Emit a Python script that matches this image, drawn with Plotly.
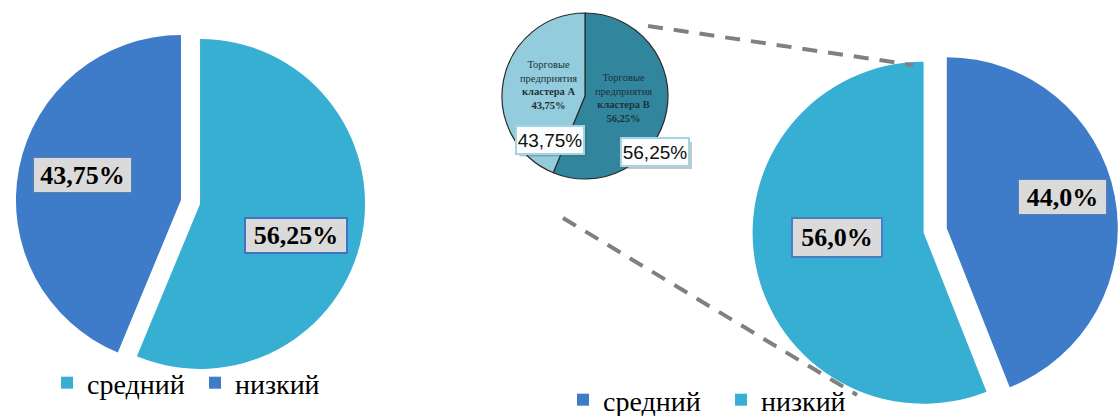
import plotly.graph_objects as go

W, H = 1118, 416

# Left chart: share of companies by level
left_labels = ["средний", "низкий"]
left_values = [56.25, 43.75]

# Right chart: share of companies by level
right_labels = ["средний", "низкий"]
right_values = [44.0, 56.0]

# Inset chart: trading companies by cluster
inset_names = ["Торговые<br>предприятия<br><b>кластера В</b>",
               "Торговые<br>предприятия<br><b>кластера А</b>"]
inset_labels = ["кластера В", "кластера А"]
inset_values = [56.25, 43.75]

CYAN = "#37AFD3"
BLUE = "#3E7BC9"
TEAL = "#31869E"
LIGHT = "#93CDDD"
SERIF = "Liberation Serif"
SANS = "Liberation Sans"


def dom(cx, cy, half):
    x0 = max(0.0, (cx - half) / W)
    x1 = min(1.0, (cx + half) / W)
    y0 = max(0.0, 1 - (cy + half) / H)
    y1 = min(1.0, 1 - (cy - half) / H)
    return dict(x=[x0, x1], y=[y0, y1])


def fmt(v, nd):
    return f"{v:.{nd}f}".replace(".", ",") + "%"


def px(x, y):
    return x / W, 1 - y / H


fig = go.Figure()

# Left pie
left_pull = 0.059
fig.add_trace(go.Pie(
    labels=left_labels, values=left_values, sort=False, direction="clockwise",
    rotation=0, pull=[left_pull, left_pull],
    marker=dict(colors=[CYAN, BLUE], line=dict(width=0)),
    textinfo="none", hoverinfo="skip",
    domain=dom(190.5, 202, 165 * (1 + left_pull)),
    legend="legend", legendgroup="left", showlegend=True,
))

# Right pie
right_pull = 0.069
fig.add_trace(go.Pie(
    labels=right_labels, values=right_values, sort=False, direction="clockwise",
    rotation=0, pull=[right_pull, right_pull],
    marker=dict(colors=[BLUE, CYAN], line=dict(width=0)),
    textinfo="none", hoverinfo="skip",
    domain=dom(935.2, 230.5, 171 * (1 + right_pull)),
    legend="legend2", legendgroup="right", showlegend=True,
))

# Inset pie
fig.add_trace(go.Pie(
    labels=inset_labels, values=inset_values, sort=False, direction="clockwise",
    rotation=0,
    marker=dict(colors=[TEAL, LIGHT], line=dict(width=1.2, color="#2b2b2b")),
    textinfo="none", hoverinfo="skip",
    domain=dom(585, 96, 83), showlegend=False,
))

annotations = []
shapes = []

# Value labels on the big pies
def value_box(text, cx, cy, w, h, border, bw):
    x, y = px(cx, cy)
    annotations.append(dict(
        x=x, y=y, xref="paper", yref="paper", text=f"<b>{text}</b>",
        showarrow=False, xanchor="center", yanchor="middle",
        font=dict(family=SERIF, size=26, color="#000000"),
        bgcolor="#DADADA", bordercolor=border, borderwidth=bw,
        width=w, height=h, borderpad=0,
    ))

value_box(fmt(left_values[1], 2), 82.5, 175, 97, 34, "#5B7FB0", 1)
value_box(fmt(left_values[0], 2), 296, 235.5, 100, 33, "#4472C4", 2)
value_box(fmt(right_values[0], 1), 1062.5, 197, 87, 34, "#5B7FB0", 1)
value_box(fmt(right_values[1], 1), 837, 237.5, 88, 37, "#4A7EC4", 2)

# Slice texts inside the inset
for name, v, cx, cy in [(inset_names[0], inset_values[0], 623, 98),
                        (inset_names[1], inset_values[1], 548, 85)]:
    x, y = px(cx, cy)
    annotations.append(dict(
        x=x, y=y, xref="paper", yref="paper",
        text=f"{name}<br><b>{fmt(v, 2)}</b>",
        showarrow=False, xanchor="center", yanchor="middle",
        font=dict(family=SERIF, size=10.5, color="#1E3238"),
    ))

# Value boxes of the inset, with a soft drop shadow
for v, cx, cy in [(inset_values[1], 549.5, 139.5), (inset_values[0], 655, 152)]:
    a, b = px(cx - 30, cy - 10)
    c, d = px(cx + 37, cy + 17)
    shapes.append(dict(
        type="rect", xref="paper", yref="paper", x0=a, y0=b, x1=c, y1=d,
        fillcolor="rgba(90,90,90,0.35)", line=dict(width=0), layer="above",
    ))
    x, y = px(cx, cy)
    annotations.append(dict(
        x=x, y=y, xref="paper", yref="paper", text=fmt(v, 2),
        showarrow=False, xanchor="center", yanchor="middle",
        font=dict(family=SANS, size=19, color="#111111"),
        bgcolor="#FBFDFE", bordercolor="#A4D4E3", borderwidth=2,
        width=66, height=26, borderpad=0,
    ))

# Dashed connectors between the inset and the right pie
for (x0, y0), (x1, y1) in [((648, 26), (913, 65)), ((563, 218), (857, 395))]:
    a, b = px(x0, y0)
    c, d = px(x1, y1)
    shapes.append(dict(
        type="line", xref="paper", yref="paper", x0=a, y0=b, x1=c, y1=d,
        line=dict(color="#808080", width=4, dash="15px,11px"), layer="above",
    ))

legend_common = dict(
    orientation="h", traceorder="normal", xanchor="left", yanchor="middle",
    font=dict(family=SERIF, size=28, color="#000000"),
    bgcolor="rgba(0,0,0,0)", borderwidth=0, itemclick=False, itemdoubleclick=False,
)

fig.update_layout(
    width=W, height=H,
    margin=dict(l=0, r=0, t=0, b=0, autoexpand=False),
    paper_bgcolor="white", plot_bgcolor="white",
    annotations=annotations, shapes=shapes,
    legend=dict(x=px(47, 0)[0], y=px(0, 383)[1], entrywidth=103, **legend_common),
    legend2=dict(x=px(563, 0)[0], y=px(0, 400)[1], entrywidth=113, **legend_common),
)

fig.write_html("out.html")
